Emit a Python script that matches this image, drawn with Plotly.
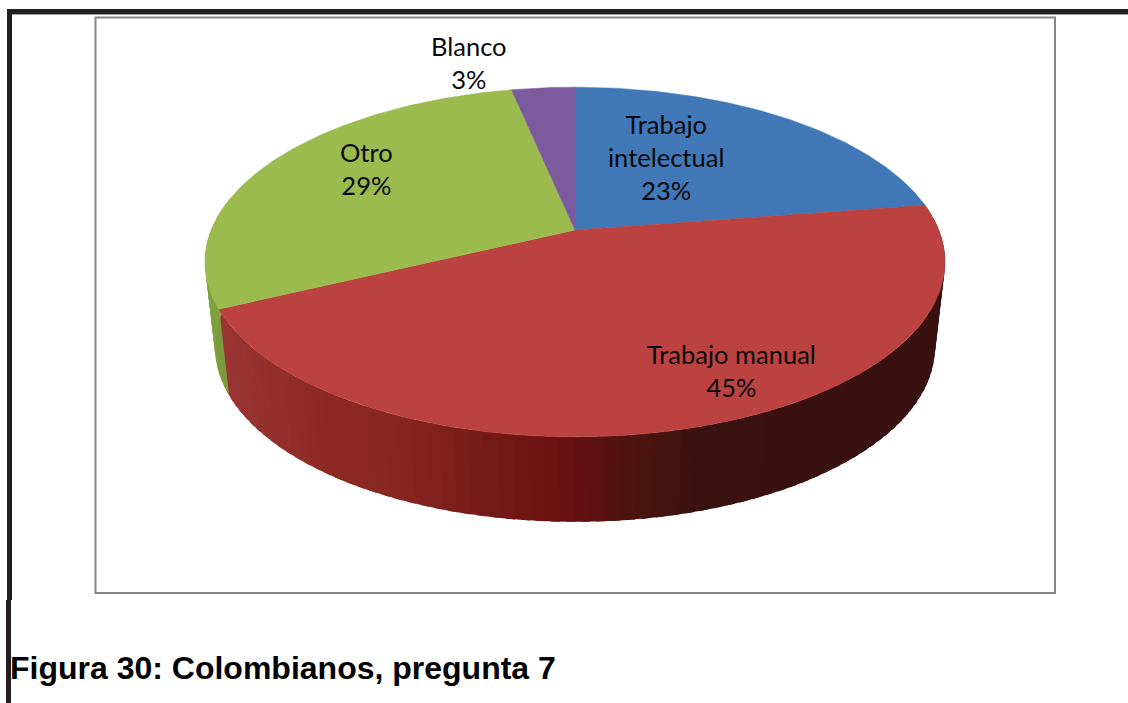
import numpy as np
import plotly.graph_objects as go

# ---- data ----
categories = ["Trabajo intelectual", "Trabajo manual", "Otro", "Blanco"]
values = [22.6, 45.3, 28.8, 3.3]
caption = "Figura 30: Colombianos, pregunta 7"

# ---- style ----
top_colors = ["#4178B8", "#BB4241", "#9BBB4F", "#7C5A9E"]
label_lines = {"Trabajo intelectual": "Trabajo<br>intelectual"}
label_pos = {"Trabajo intelectual": (666, 157), "Trabajo manual": (731, 370),
             "Otro": (366, 168), "Blanco": (469, 62)}
LABEL_FONT = dict(family="Lato, Carlito, Calibri, sans-serif", size=25.5, color="#0A0A0A")

# projection of the tilted disc (pixel-like axis units)
CX, CY, A, B, K = 575, 230, 363.8, 169.0, 0.183
DEPTH, SHRINK = 85, 0.973


def rim(theta_deg):
    t = np.radians(theta_deg)
    u, v = np.sin(t), np.cos(t)
    w = 1 + K * v
    return CX + A * u / w, CY - B * v / w


def rim_low(theta_deg):
    x, y = rim(theta_deg)
    return CX + (x - CX) * SHRINK, y + DEPTH


def wall_color(x):
    xs = [205, 230, 300, 400, 490, 560, 620, 700, 950]
    rs = [152, 152, 143, 134, 115, 106, 79, 58, 56]
    gs = [52, 52, 43, 36, 27, 16, 20, 18, 17]
    bs = [50, 50, 39, 32, 23, 16, 16, 16, 16]
    return f"rgb({np.interp(x, xs, rs):.0f},{np.interp(x, xs, gs):.0f},{np.interp(x, xs, bs):.0f})"


fig = go.Figure()

cum = np.concatenate([[0], np.cumsum(values)]) * 360.0 / sum(values)
red_end = cum[2]

# side wall: overlapping strips so no seams show
edges = np.arange(80, 282, 2.0)
for a0, a1 in zip(edges[:-1], edges[1:]):
    ts = np.linspace(a0, a1 + 1.2, 4)
    xt, yt = rim(ts)
    xb, yb = rim_low(ts)
    is_green = a0 >= red_end - 0.5
    if is_green:
        frac = np.interp(a0, [red_end, 280], [0, 1])
        col = f"rgb({np.interp(frac,[0,1],[122,135]):.0f},{np.interp(frac,[0,1],[155,165]):.0f},{np.interp(frac,[0,1],[60,68]):.0f})"
    else:
        col = wall_color(xt.mean())
    fig.add_trace(go.Scatter(
        x=np.concatenate([xt, xb[::-1]]), y=np.concatenate([yt, yb[::-1]]),
        mode="lines", fill="toself", fillcolor=col,
        line=dict(color=col, width=0), hoverinfo="skip", showlegend=False))

# top face: one wedge per category
for i, cat in enumerate(categories):
    ts = np.linspace(cum[i], cum[i + 1], 120)
    xr, yr = rim(ts)
    fig.add_trace(go.Scatter(
        x=np.concatenate([[CX], xr, [CX]]), y=np.concatenate([[CY], yr, [CY]]),
        mode="lines", fill="toself", fillcolor=top_colors[i],
        line=dict(color=top_colors[i], width=0.5), name=cat, hoverinfo="name", showlegend=False))

# data labels
for cat, val in zip(categories, values):
    x, y = label_pos[cat]
    fig.add_annotation(x=x, y=y, xref="x", yref="y", showarrow=False,
                       text=f"{label_lines.get(cat, cat)}<br>{round(val)}%", font=LABEL_FONT,
                       align="center")

# caption
fig.add_annotation(x=8, y=668, xref="x", yref="y", showarrow=False, xanchor="left", yanchor="middle",
                   text=f"<b>{caption}</b>",
                   font=dict(family="Liberation Sans, Arial, sans-serif", size=32, color="#000000"))

shapes = [
    dict(type="rect", x0=95.5, y0=17.5, x1=1055, y1=593, line=dict(color="#868686", width=2),
         fillcolor="rgba(0,0,0,0)", layer="below"),
    dict(type="rect", x0=7, y0=9, x1=1128, y1=14, fillcolor="#231F20", line=dict(width=0), layer="below"),
    dict(type="rect", x0=12, y0=14, x1=1128, y1=15, fillcolor="#A0A0A0", line=dict(width=0), layer="below"),
    dict(type="rect", x0=7, y0=9, x1=12, y1=600, fillcolor="#231F20", line=dict(width=0), layer="below"),
    dict(type="rect", x0=6, y0=600, x1=11, y1=703, fillcolor="#231F20", line=dict(width=0), layer="below"),
]

fig.update_layout(
    width=1128, height=703, margin=dict(l=0, r=0, t=0, b=0),
    paper_bgcolor="white", plot_bgcolor="white", showlegend=False, shapes=shapes,
    xaxis=dict(range=[0, 1128], visible=False, fixedrange=True),
    yaxis=dict(range=[703, 0], visible=False, fixedrange=True),
)
fig.write_html("out.html", config={"displayModeBar": False},
               post_script="document.body.style.margin='0';document.body.style.overflow='hidden';")
